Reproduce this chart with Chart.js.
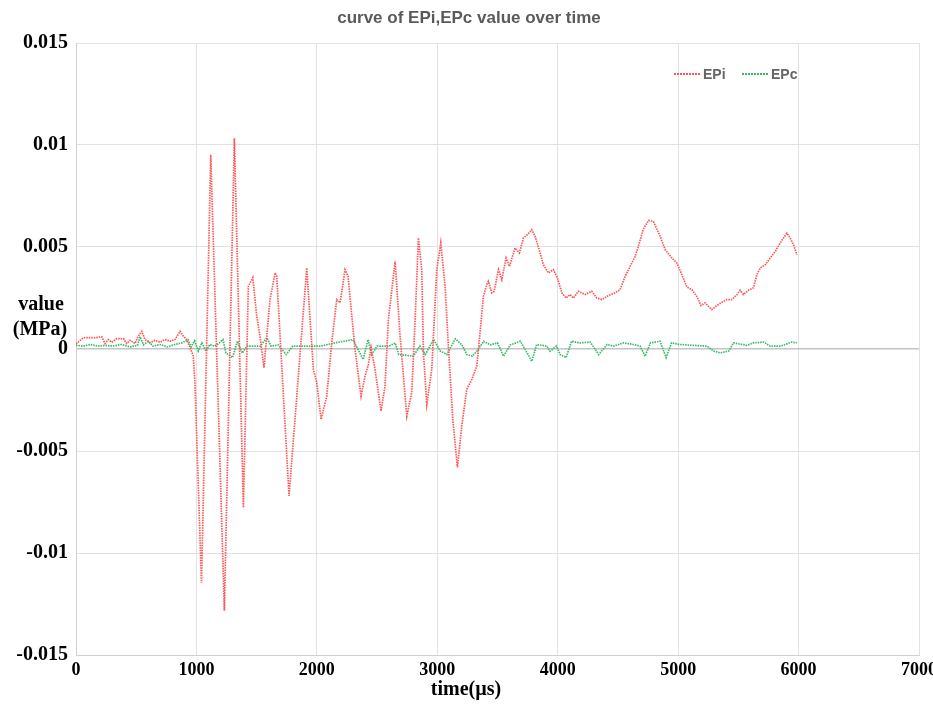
<!DOCTYPE html>
<html><head><meta charset="utf-8">
<script src="https://cdn.jsdelivr.net/npm/chart.js@4"></script>
<style>html,body{margin:0;padding:0;background:#fff}#wrap{width:933px;height:707px;position:relative}</style>
</head><body><div id="wrap"><canvas id="c" width="933" height="707"></canvas></div>
<script>
const chartTitle = "curve of EPi,EPc value over time";
const xAxisTitle = "time(µs)";
const yAxisTitle = ["value", "(MPa)"];
const seriesNames = ["EPi", "EPc"];

const epiTime = [0,61,116,158,213,241,268,297,338,393,421,449,490,517,546,573,615,656,698,739,781,822,864,891,919,947,974,988,1042,1119,1232,1315,1390,1431,1468,1501,1528,1561,1611,1653,1667,1769,1916,1971,1999,2035,2082,2124,2165,2193,2234,2259,2317,2367,2400,2428,2450,2483,2533,2566,2594,2650,2691,2747,2788,2816,2843,2871,2885,2913,2954,2996,3029,3065,3092,3129,3167,3203,3245,3287,3328,3355,3383,3411,3424,3453,3472,3508,3536,3571,3599,3646,3682,3715,3748,3785,3812,3854,3881,3923,3964,3998,4034,4070,4103,4130,4172,4228,4283,4325,4366,4421,4477,4518,4560,4601,4643,4670,4709,4754,4795,4851,4892,4948,4989,5031,5072,5114,5155,5189,5224,5280,5321,5363,5404,5446,5488,5515,5542,5584,5625,5654,5681,5723,5764,5806,5847,5903,5930,5958,5986];
const epiValue = [0.00025,0.00055,0.00056,0.00055,0.0006,0.00027,0.00046,0.00033,0.00051,0.00051,0.00027,0.00043,0.00027,0.00063,0.00087,0.00046,0.0003,0.00043,0.00033,0.00046,0.00038,0.00046,0.00087,0.00063,0.00046,0.00007,-0.00035,-0.0017,-0.01147,0.00952,-0.01283,0.01033,-0.00777,0.00307,0.0035,0.0016,0.00063,-0.00092,0.00242,0.00373,0.00356,-0.0072,0.00397,-0.001,-0.00164,-0.00345,-0.00231,0.00032,0.00242,0.00227,0.00389,0.00356,-0.00002,-0.00231,-0.00133,-0.00076,0.00007,-0.001,-0.00304,-0.00182,0.00144,0.0043,0.00063,-0.00329,-0.00214,0.00144,0.00544,0.00389,-0.00019,-0.00272,-0.001,0.00389,0.0052,0.00307,0.00014,-0.00345,-0.00581,-0.00378,-0.00198,-0.00149,-0.00084,0.00081,0.00258,0.00316,0.00332,0.00275,0.00283,0.00389,0.0034,0.00446,0.00405,0.00495,0.00471,0.00544,0.0056,0.00585,0.00552,0.00471,0.00413,0.00373,0.00389,0.00348,0.00275,0.0025,0.00267,0.0025,0.00283,0.00267,0.00283,0.0025,0.00242,0.00262,0.00275,0.00291,0.00356,0.00405,0.00454,0.00503,0.00585,0.0063,0.00625,0.00552,0.00487,0.00446,0.00422,0.00364,0.00304,0.00291,0.00258,0.00213,0.00226,0.00193,0.00213,0.00229,0.00242,0.00242,0.00267,0.00288,0.00267,0.00288,0.003,0.00364,0.00397,0.00413,0.00446,0.00478,0.0052,0.00568,0.00544,0.00511,0.00462];

const epcTime = [0,60,120,180,240,300,380,450,510,532,560,600,640,700,760,820,880,930,955,985,1015,1045,1080,1110,1150,1190,1220,1245,1300,1340,1380,1420,1500,1530,1585,1620,1680,1745,1800,1860,1950,2030,2150,2300,2385,2425,2455,2500,2600,2650,2680,2800,2855,2900,2970,3025,3080,3150,3205,3245,3290,3330,3385,3440,3500,3550,3605,3690,3785,3825,3910,3935,3990,4020,4070,4115,4185,4270,4340,4410,4465,4545,4630,4685,4725,4770,4850,4900,4945,5015,5125,5240,5295,5350,5420,5460,5570,5625,5710,5765,5850,5945,5985];
const epcValue = [0.00018,0.00014,0.00022,0.00014,0.00018,0.00014,0.00022,0.0001,0.00018,0.0006,0.0002,0.00038,0.00014,0.00022,0.0001,0.00022,0.0003,0.00046,0.0001,0.0004,-0.0001,0.0003,-0.00011,0.00022,0.00014,0.0003,0.00046,-0.00019,-0.00042,0.00038,-0.0002,0.00014,0.00014,0.00014,0.00055,0.00014,0.0002,-0.00027,0.00014,0.00014,0.00014,0.00014,0.0003,0.00046,-0.00051,0.00046,-0.00027,0.00014,0.00014,0.0003,-0.00027,-0.00035,0.00014,-0.00027,0.00046,-0.0001,-0.00027,0.0005,0.0002,-0.00027,-0.00035,-0.0001,0.00038,0.0002,0.0003,-0.00035,0.0002,0.00038,-0.0006,0.00022,0.00014,-0.00011,0.00014,-0.00027,-0.00042,0.00038,0.0003,0.00034,-0.00027,0.00022,0.00014,0.0003,0.00022,0.00014,-0.00035,0.0003,0.00038,-0.00042,0.0003,0.00022,0.00018,0.00014,-0.0001,-0.00019,-0.0001,0.0003,0.00018,0.0003,0.00034,0.00014,0.00014,0.00034,0.0003];

const epiColor = 'rgb(255,85,85)';
const epcColor = 'rgb(55,185,105)';

const toPts = (ts, vs) => ts.map((t, i) => ({x: t, y: vs[i]}));

const textPlugin = {
  id: 'texts',
  afterDraw(chart) {
    const c = chart.ctx;
    c.save();
    c.fillStyle = '#5a5a5a';
    c.font = 'bold 17px "Liberation Sans", Arial, sans-serif';
    c.textAlign = 'center';
    c.textBaseline = 'middle';
    c.fillText(chartTitle, 469, 18);
    c.fillStyle = '#000';
    c.font = 'bold 20px "Liberation Serif", "Times New Roman", serif';
    c.fillText(xAxisTitle, 466, 690);
    c.fillText(yAxisTitle[0], 41, 305);
    c.fillText(yAxisTitle[1], 40, 330);
    const items = [[seriesNames[0], epiColor, 674], [seriesNames[1], epcColor, 742]];
    c.font = 'bold 14px "Liberation Sans", Arial, sans-serif';
    c.textAlign = 'left';
    items.forEach(([name, col, x0]) => {
      c.fillStyle = col;
      for (let x = x0; x < x0 + 26; x += 3) c.fillRect(x, 73, 2, 2);
      c.fillStyle = '#666';
      c.fillText(name, x0 + 29, 75);
    });
    c.restore();
  }
};

const xTickFont = {family: '"Liberation Serif", "Times New Roman", serif', size: 18, weight: 'bold'};
const yTickFont = {family: '"Liberation Serif", "Times New Roman", serif', size: 20, weight: 'bold'};

new Chart(document.getElementById('c'), {
  type: 'line',
  data: {
    datasets: [
      {label: seriesNames[0], data: toPts(epiTime, epiValue), borderColor: epiColor, borderWidth: 1.7, borderDash: [1.5, 1], pointRadius: 0, fill: false, tension: 0},
      {label: seriesNames[1], data: toPts(epcTime, epcValue), borderColor: epcColor, borderWidth: 1.7, borderDash: [1.5, 1], pointRadius: 0, fill: false, tension: 0}
    ]
  },
  options: {
    responsive: false,
    animation: false,
    devicePixelRatio: 1,
    layout: {padding: {top: 43, right: 14, left: 0, bottom: 0}},
    plugins: {legend: {display: false}, tooltip: {enabled: false}, title: {display: false}},
    scales: {
      x: {
        type: 'linear', min: 0, max: 7000,
        ticks: {stepSize: 1000, color: '#000', font: xTickFont, padding: 5, maxRotation: 0,
          callback: v => String(v)},
        grid: {color: '#e2e2e2', lineWidth: 1, drawTicks: false},
        border: {color: '#d0d0d0'},
        afterFit(s) { s.height = 52; s.paddingLeft = 0; s.paddingRight = 0; }
      },
      y: {
        min: -0.015, max: 0.015,
        ticks: {stepSize: 0.005, color: '#000', font: yTickFont, padding: 8,
          callback: v => String(Math.round(v * 1000) / 1000)},
        grid: {color: ctx => (ctx.tick && ctx.tick.value === 0) ? '#c4c4c4' : '#e2e2e2', lineWidth: ctx => (ctx.tick && ctx.tick.value === 0) ? 1.5 : 1, drawTicks: false},
        border: {color: '#d0d0d0'},
        afterFit(s) { s.width = 76; s.paddingTop = 0; s.paddingBottom = 0; }
      }
    }
  },
  plugins: [textPlugin]
});
</script>
</body></html>
